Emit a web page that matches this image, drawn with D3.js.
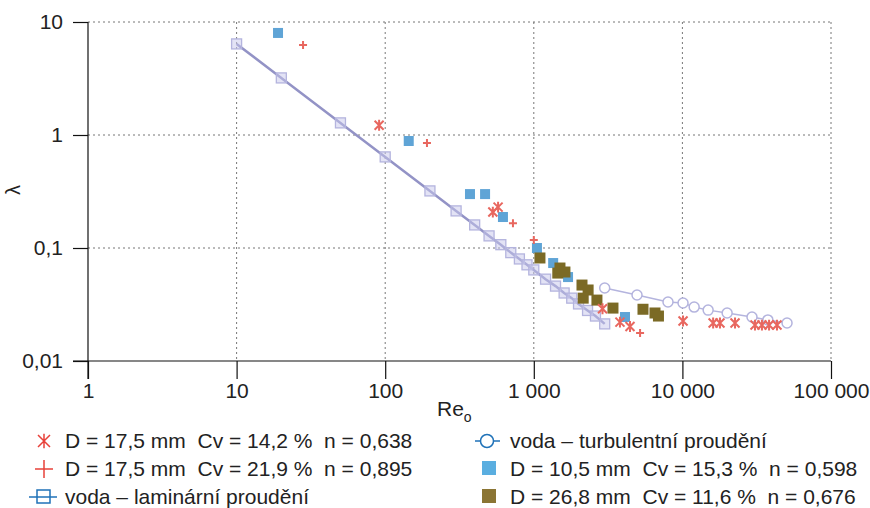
<!DOCTYPE html>
<html>
<head>
<meta charset="utf-8">
<script src="https://cdn.jsdelivr.net/npm/d3@7"></script>
<style>
  body { margin: 0; background: #fff; }
  svg { display: block; font-family: 'Liberation Sans', Arial, sans-serif; }
</style>
</head>
<body>
<div id="chart"></div>
<script>
'use strict';

// laminar water (voda - laminarni proudeni)
var lamRe = [10, 20, 50, 100, 200, 300, 400, 500, 600, 700, 800, 900, 1000, 1200, 1400, 1600, 1800, 2000, 2300, 2600, 3000];
var lamL = [6.4, 3.2, 1.28, 0.64, 0.32, 0.213, 0.16, 0.128, 0.107, 0.091, 0.08, 0.071, 0.064, 0.053, 0.046, 0.04, 0.036, 0.032, 0.028, 0.025, 0.0213];

// turbulent water (voda - turbulentni proudeni)
var turRe = [3000, 4950, 8000, 10100, 12000, 14900, 20000, 29400, 37600, 50600];
var turL = [0.0443, 0.0384, 0.0333, 0.0326, 0.030, 0.0282, 0.0266, 0.0245, 0.0231, 0.0217];

// D = 17,5 mm Cv = 14,2 % (asterisk)
var astRe = [91, 530, 575, 2900, 3800, 4440, 10100, 16100, 17900, 22600, 30800, 34300, 38300, 43300];
var astL = [1.22, 0.208, 0.23, 0.029, 0.0221, 0.0202, 0.0226, 0.0217, 0.0217, 0.0217, 0.0208, 0.0208, 0.0208, 0.0208];

// D = 17,5 mm Cv = 21,9 % (plus)
var plusRe = [28, 191, 724, 1000, 5190];
var plusL = [6.26, 0.85, 0.166, 0.118, 0.0177];

// D = 10,5 mm Cv = 15,3 % (blue squares)
var blueRe = [19, 144, 372, 470, 620, 1050, 1350, 1700, 4110];
var blueL = [8.0, 0.885, 0.30, 0.30, 0.188, 0.10, 0.0736, 0.0553, 0.0245];

// D = 26,8 mm Cv = 11,6 % (olive squares)
var oliveRe = [1100, 1450, 1500, 1620, 2110, 2150, 2320, 2660, 3410, 5430, 6540, 6900];
var oliveL = [0.0816, 0.060, 0.0665, 0.0613, 0.047, 0.036, 0.0425, 0.0346, 0.0294, 0.0287, 0.0266, 0.025];

var xTicks = [1, 10, 100, 1000, 10000, 100000];
var xTickLabels = ['1', '10', '100', '1 000', '10 000', '100 000'];
var yTicks = [0.01, 0.1, 1, 10];
var yTickLabels = ['0,01', '0,1', '1', '10'];

var legendLabels = [
    'D = 17,5 mm  Cv = 14,2 %  n = 0,638',
    'D = 17,5 mm  Cv = 21,9 %  n = 0,895',
    'voda \u2013 laminární proudění',
    'voda \u2013 turbulentní proudění',
    'D = 10,5 mm  Cv = 15,3 %  n = 0,598',
    'D = 26,8 mm  Cv = 11,6 %  n = 0,676'
];

(function () {
    var width = 870, height = 508,
        mLeft = 88, mRight = 831, mTop = 22, mBottom = 361,
        red = '#e8413a', redSoft = '#e8675f',
        blue = '#1f72b8', blueSq = '#5fa4d6',
        olive = '#7b6a25', lav = '#9393c6', lavSoft = '#b4b4de';

    var svg = d3.select('#chart').append('svg').attr('width', width).attr('height', height);

    var x = d3.scaleLog().domain([1, 100000]).range([mLeft, mRight]),
        y = d3.scaleLog().domain([0.01, 10]).range([mBottom, mTop]);

    function zip(a, b) {
        return a.map(function (v, i) { return [v, b[i]]; });
    }

    // grid
    var grid = svg.append('g').attr('stroke', '#777').attr('stroke-width', 1).attr('stroke-dasharray', '2,3');
    grid.selectAll('.gx').data(xTicks.slice(1)).enter().append('line')
        .attr('x1', function (d) { return x(d); }).attr('x2', function (d) { return x(d); })
        .attr('y1', mTop).attr('y2', mBottom);
    grid.selectAll('.gy').data(yTicks.slice(1)).enter().append('line')
        .attr('x1', mLeft).attr('x2', mRight)
        .attr('y1', function (d) { return y(d); }).attr('y2', function (d) { return y(d); });

    // axes
    var xAxis = d3.axisBottom(x).tickValues(xTicks).tickSize(18).tickPadding(4)
        .tickFormat(function (d, i) { return xTickLabels[i]; });
    var gx = svg.append('g').attr('transform', 'translate(0,' + mBottom + ')').call(xAxis);
    gx.select('.domain').attr('d', 'M' + (mLeft - 15) + ',0H' + mRight);

    var yAxis = d3.axisLeft(y).tickValues(yTicks).tickSize(15).tickPadding(10)
        .tickFormat(function (d, i) { return yTickLabels[i]; });
    var gy = svg.append('g').attr('transform', 'translate(' + mLeft + ',0)').call(yAxis);
    gy.select('.domain').attr('d', 'M0,' + mTop + 'V' + (mBottom + 18));

    svg.selectAll('.tick text').attr('font-size', 21).attr('fill', '#222').attr('font-family', "'Liberation Sans', Arial, sans-serif");
    svg.selectAll('.tick line, .domain').attr('stroke', '#111').attr('stroke-width', 1.2);

    // axis titles
    svg.append('text').attr('x', 437).attr('y', 416).attr('font-size', 21).attr('fill', '#222')
        .text('Re').append('tspan').attr('font-size', 14).attr('dy', 6).text('o');
    svg.append('text').attr('transform', 'translate(20,190) rotate(-90)').attr('text-anchor', 'middle')
        .attr('font-size', 20).attr('fill', '#222').text('\u03bb');

    var line = d3.line().x(function (d) { return x(d[0]); }).y(function (d) { return y(d[1]); });

    // turbulent water
    var tur = zip(turRe, turL);
    svg.append('path').datum(tur).attr('d', line).attr('fill', 'none').attr('stroke', lavSoft).attr('stroke-width', 1.5);
    svg.selectAll('.tur').data(tur).enter().append('circle')
        .attr('cx', function (d) { return x(d[0]); }).attr('cy', function (d) { return y(d[1]); })
        .attr('r', 5).attr('fill', '#fff').attr('stroke', lavSoft).attr('stroke-width', 1.5);

    // laminar water
    var lam = zip(lamRe, lamL);
    svg.append('path').datum(lam).attr('d', line).attr('fill', 'none').attr('stroke', lav).attr('stroke-width', 2.5);
    svg.selectAll('.lam').data(lam).enter().append('rect')
        .attr('x', function (d) { return x(d[0]) - 5; }).attr('y', function (d) { return y(d[1]) - 5; })
        .attr('width', 10).attr('height', 10)
        .attr('fill', 'rgba(200,200,235,0.5)').attr('stroke', lavSoft).attr('stroke-width', 1.3);

    // squares
    function squares(data, color, size) {
        svg.append('g').selectAll('rect').data(data).enter().append('rect')
            .attr('x', function (d) { return x(d[0]) - size / 2; }).attr('y', function (d) { return y(d[1]) - size / 2; })
            .attr('width', size).attr('height', size).attr('fill', color);
    }
    squares(zip(blueRe, blueL), blueSq, 10);
    squares(zip(oliveRe, oliveL), olive, 11);

    // asterisk & plus markers
    function asterisk(s) {
        return 'M' + (-s) + ',' + (-s) + 'L' + s + ',' + s + 'M' + (-s) + ',' + s + 'L' + s + ',' + (-s) + 'M0,' + (-s * 1.2) + 'V' + (s * 1.2);
    }
    function plus(s) {
        return 'M' + (-s) + ',0H' + s + 'M0,' + (-s) + 'V' + s;
    }
    svg.append('g').selectAll('path').data(zip(astRe, astL)).enter().append('path')
        .attr('transform', function (d) { return 'translate(' + x(d[0]) + ',' + y(d[1]) + ')'; })
        .attr('d', asterisk(4.5)).attr('stroke', redSoft).attr('stroke-width', 2).attr('fill', 'none');
    svg.append('g').selectAll('path').data(zip(plusRe, plusL)).enter().append('path')
        .attr('transform', function (d) { return 'translate(' + x(d[0]) + ',' + y(d[1]) + ')'; })
        .attr('d', plus(4)).attr('stroke', redSoft).attr('stroke-width', 2).attr('fill', 'none');

    // legend
    var rows = [448, 476, 504];
    var legend = svg.append('g').attr('font-size', 21).attr('fill', '#222');
    legendLabels.forEach(function (t, i) {
        var col = i < 3 ? 0 : 1;
        legend.append('text').attr('x', col ? 510 : 65).attr('y', rows[i % 3])
            .attr('xml:space', 'preserve').style('white-space', 'pre').text(t);
    });
    var lg = svg.append('g');
    lg.append('path').attr('transform', 'translate(44,441)').attr('d', asterisk(6)).attr('stroke', red).attr('stroke-width', 1.5).attr('fill', 'none');
    lg.append('path').attr('transform', 'translate(44,469)').attr('d', plus(9)).attr('stroke', red).attr('stroke-width', 1.5).attr('fill', 'none');
    lg.append('line').attr('x1', 29).attr('x2', 57).attr('y1', 497).attr('y2', 497).attr('stroke', blue).attr('stroke-width', 1.5);
    lg.append('rect').attr('x', 37).attr('y', 490).attr('width', 13).attr('height', 13).attr('fill', 'none').attr('stroke', blue).attr('stroke-width', 1.5);
    lg.append('line').attr('x1', 475).attr('x2', 500).attr('y1', 441).attr('y2', 441).attr('stroke', blue).attr('stroke-width', 1.5);
    lg.append('circle').attr('cx', 487).attr('cy', 441).attr('r', 6.5).attr('fill', '#fff').attr('stroke', blue).attr('stroke-width', 1.5);
    lg.append('rect').attr('x', 482).attr('y', 461).attr('width', 14).attr('height', 14).attr('fill', '#5aaee0');
    lg.append('rect').attr('x', 482).attr('y', 489).attr('width', 14).attr('height', 14).attr('fill', '#8b7534');
})();
</script>
</body>
</html>
